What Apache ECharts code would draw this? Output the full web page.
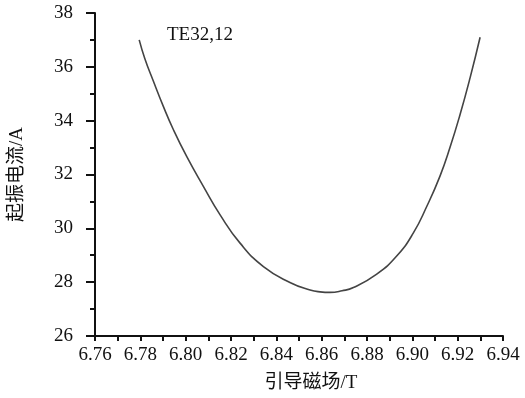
<!DOCTYPE html>
<html><head><meta charset="utf-8">
<script src="https://cdn.jsdelivr.net/npm/echarts@6/dist/echarts.min.js"></script>
<style>html,body{margin:0;padding:0;background:#fff}#c{width:525px;height:398px}</style>
</head><body><div id="c"></div>
<script>
const fieldT = [6.7795, 6.7820, 6.7856, 6.7901, 6.7945, 6.8005, 6.8078, 6.8152, 6.8240, 6.8343, 6.8460, 6.8549, 6.8593, 6.8637, 6.8690, 6.8740, 6.8843, 6.8931, 6.9004, 6.9064, 6.9122, 6.9166, 6.9210, 6.9255, 6.9299];
const currentA = [37.00, 36.30, 35.50, 34.54, 33.68, 32.66, 31.56, 30.50, 29.45, 28.58, 27.99, 27.71, 27.64, 27.62, 27.68, 27.80, 28.30, 28.97, 29.82, 30.82, 31.94, 33.00, 34.21, 35.60, 37.10];
const xTicks = {min: 6.76, max: 6.94, interval: 0.02};
const yTicks = {min: 26, max: 38, interval: 2};
const modeLabel = 'TE32,12';
const xName = '引导磁场/T';
const yName = '起振电流/A';

const serif = '"Liberation Serif","Times New Roman","Noto Sans CJK SC",serif';
const chart = echarts.init(document.getElementById('c'));
chart.setOption({
  backgroundColor: '#fff',
  animation: false,
  title: {text: modeLabel, left: 162, top: 21, textStyle: {fontFamily: serif, fontSize: 19, fontWeight: 'normal', color: '#111'}},
  grid: {left: 95, right: 22, top: 13, bottom: 61},
  xAxis: {
    type: 'value', min: xTicks.min, max: xTicks.max, interval: xTicks.interval,
    name: xName, nameLocation: 'middle', nameGap: 38,
    nameTextStyle: {fontFamily: serif, fontSize: 19, color: '#111', padding: [0, 0, 0, 24]},
    axisLine: {show: true, lineStyle: {color: '#111', width: 2}},
    axisTick: {show: true, length: 5, lineStyle: {color: '#111', width: 2}},
    minorTick: {show: true, splitNumber: 2, length: 5, lineStyle: {color: '#111', width: 2}},
    splitLine: {show: false},
    axisLabel: {fontFamily: serif, fontSize: 19, color: '#111', margin: 10, formatter: v => v.toFixed(2)}
  },
  yAxis: {
    type: 'value', min: yTicks.min, max: yTicks.max, interval: yTicks.interval,
    name: yName, nameLocation: 'middle', nameGap: 68,
    nameTextStyle: {fontFamily: serif, fontSize: 19, color: '#111'},
    axisLine: {show: true, lineStyle: {color: '#111', width: 2}},
    axisTick: {show: true, length: 9, lineStyle: {color: '#111', width: 2}},
    minorTick: {show: true, splitNumber: 2, length: 5, lineStyle: {color: '#111', width: 2}},
    splitLine: {show: false},
    axisLabel: {fontFamily: serif, fontSize: 19, color: '#111', margin: 22}
  },
  series: [{
    type: 'line', smooth: 0.5, showSymbol: false,
    lineStyle: {color: '#444', width: 1.6},
    data: fieldT.map((x, i) => [x, currentA[i]])
  }]
});
</script></body></html>
